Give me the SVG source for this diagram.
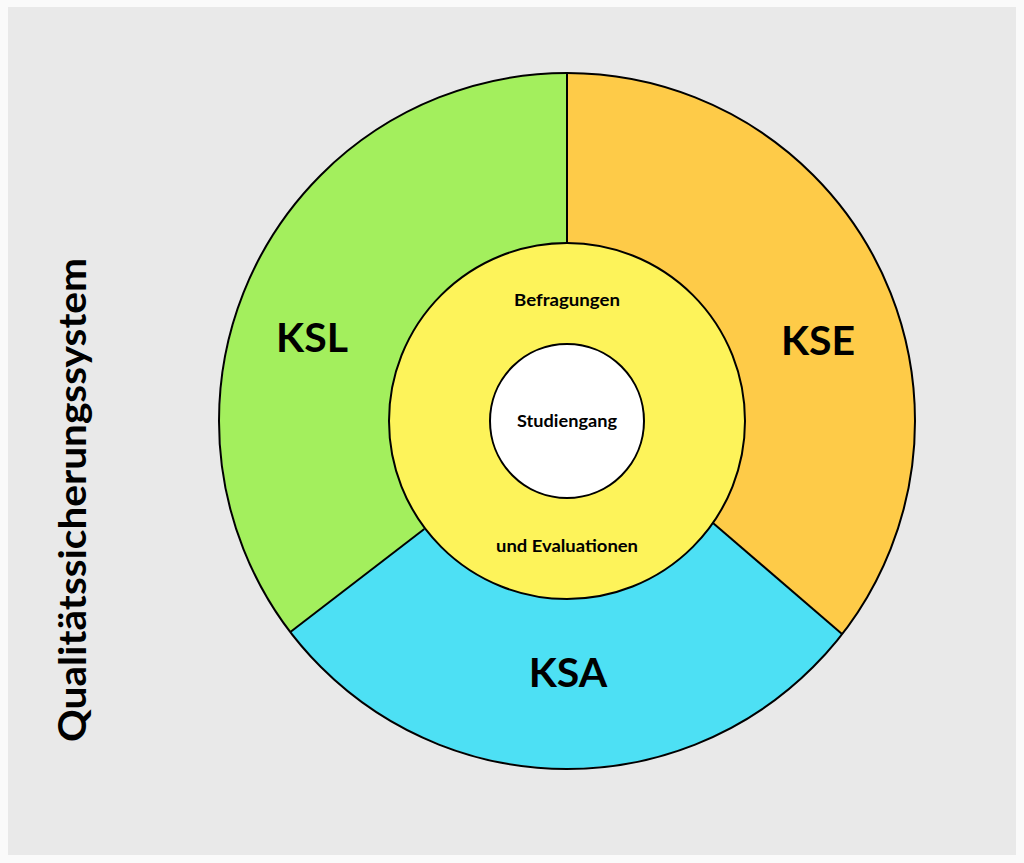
<svg xmlns="http://www.w3.org/2000/svg" width="1024" height="863" viewBox="0 0 1024 863">
<style>
.seg{stroke:none}
.ln{fill:none;stroke:#000;stroke-width:2}
.big{font-family:Lato,"Noto Sans",sans-serif;font-weight:700;font-size:41px;fill:#000;text-anchor:middle}
.sm{font-family:Lato,"Noto Sans",sans-serif;font-weight:700;font-size:17px;fill:#000;text-anchor:middle}
</style>
<rect x="0" y="0" width="1024" height="863" fill="#fafafa"/>
<rect x="8" y="7" width="1008" height="848" fill="#e9e9e9"/>
<g id="ksl">
<path class="seg" fill="#a3ef5d" d="M424.3,529 L290.7,631.7 A348,348 0 0 1 567,73 L567,421 Z"/>
<text class="big" x="312" y="352">KSL</text>
</g>
<g id="kse">
<path class="seg" fill="#fecb48" d="M567,421 L567,73 A348,348 0 0 1 842,634 L713,523 Z"/>
<text class="big" x="818" y="355">KSE</text>
</g>
<g id="ksa">
<path class="seg" fill="#4de0f4" d="M713,523 L842,634 A348,348 0 0 1 290.7,631.7 L424.3,529 L567,421 Z"/>
<text class="big" x="568" y="687">KSA</text>
</g>
<g id="connectors">
<circle class="ln" cx="567" cy="421" r="348"/>
<line class="ln" x1="567" y1="73" x2="567" y2="243"/>
<line class="ln" x1="713" y1="523" x2="842" y2="634"/>
<line class="ln" x1="424.3" y1="529" x2="290.7" y2="631.7"/>
</g>
<g id="befragungen">
<circle cx="567" cy="421" r="178" fill="#fdf35a" stroke="#000" stroke-width="2"/>
<text class="sm" x="567" y="306" textLength="106" lengthAdjust="spacingAndGlyphs">Befragungen</text>
<text class="sm" x="567" y="552" textLength="142" lengthAdjust="spacingAndGlyphs">und Evaluationen</text>
</g>
<g id="studiengang">
<circle cx="567" cy="421" r="77" fill="#ffffff" stroke="#000" stroke-width="2"/>
<text class="sm" x="567" y="427" textLength="100" lengthAdjust="spacingAndGlyphs">Studiengang</text>
</g>
<g id="title">
<text x="0" y="0" transform="translate(86,500) rotate(-90)" font-family="Lato,'Noto Sans',sans-serif" font-weight="700" font-size="38" fill="#000" text-anchor="middle" textLength="484" lengthAdjust="spacingAndGlyphs">Qualitätssicherungssystem</text>
</g>
</svg>
